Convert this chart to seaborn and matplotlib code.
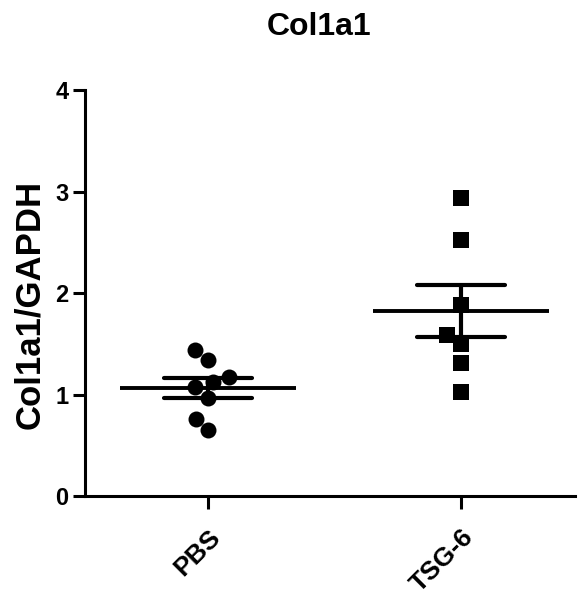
import matplotlib
matplotlib.use("Agg")
import matplotlib.pyplot as plt
import seaborn as sns
import pandas as pd

categories = ["PBS", "TSG-6"]
pbs_values = [1.44, 1.34, 1.17, 1.12, 1.07, 0.97, 0.76, 0.65]
tsg6_values = [2.94, 2.52, 1.88, 1.59, 1.50, 1.31, 1.02]
title = "Col1a1"
ylabel = "Col1a1/GAPDH"
yticks = [0, 1, 2, 3, 4]

df = pd.DataFrame({
    "group": [categories[0]] * len(pbs_values) + [categories[1]] * len(tsg6_values),
    "value": pbs_values + tsg6_values,
})

sns.set_theme(style="ticks")
plt.rcParams["font.family"] = ["Liberation Sans", "DejaVu Sans"]
plt.rcParams["font.weight"] = "bold"
for k in ["text.color", "axes.labelcolor", "xtick.color", "ytick.color", "axes.edgecolor"]:
    plt.rcParams[k] = "black"

fig = plt.figure(figsize=(5.78, 5.96), dpi=100)
ax = fig.add_axes([85 / 578, 1 - 496 / 596, 490 / 578, 406 / 596])

markers = ["o", "s"]
for cat, mk in zip(categories, markers):
    sub = df[df["group"] == cat]
    sns.swarmplot(data=sub, x="group", y="value", order=categories, marker=mk,
                  color="black", size=11.5, linewidth=0, ax=ax, zorder=3)

sns.pointplot(data=df, x="group", y="value", order=categories, errorbar="se",
              linestyle="none", marker="_", markersize=127, markeredgewidth=2.8,
              color="black", capsize=0.35, err_kws={"linewidth": 3.0},
              ax=ax, zorder=4)
for ln in ax.lines:
    ln.set_solid_capstyle("round")
    ln.set_dash_capstyle("round")

ax.set_xlim(-0.486, 1.451)
ax.set_ylim(0, 4)
ax.set_yticks(yticks)
ax.set_yticklabels([str(t) for t in yticks], fontsize=17, fontweight="bold")
ax.set_xticks(range(len(categories)))
ax.set_xticklabels(categories, fontsize=19, fontweight="bold", rotation=45,
                   ha="right", rotation_mode="anchor")
ax.tick_params(axis="both", length=9, width=2.2, color="black", pad=3)
ax.tick_params(axis="x", pad=12)
for s in ["top", "right"]:
    ax.spines[s].set_visible(False)
for s in ["left", "bottom"]:
    ax.spines[s].set_linewidth(2.2)
    ax.spines[s].set_color("black")
ax.set_xlabel("")
ax.set_ylabel(ylabel, fontsize=25, fontweight="bold")
ax.yaxis.set_label_coords(-0.08, 0.473)
fig.text(319 / 578, 1 - 27 / 596, title, fontsize=23, fontweight="bold",
         ha="center", va="center")

fig.savefig("out.png", dpi=100)
